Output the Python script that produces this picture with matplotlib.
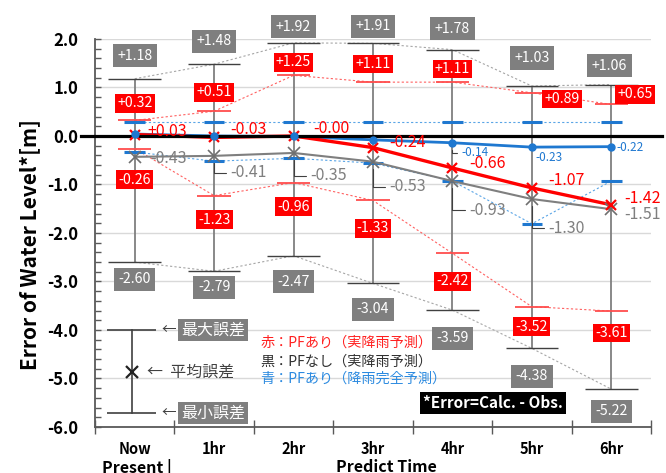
import matplotlib.pyplot as plt
from matplotlib.ticker import FixedLocator

plt.rcParams['font.family'] = ['Noto Sans CJK JP', 'DejaVu Sans']
plt.rcParams['axes.unicode_minus'] = False

# --- Data ---

STEPS = ["Now", "1hr", "2hr", "3hr", "4hr", "5hr", "6hr"]

# PFなし (実降雨予測)
NOPF_MAX = [1.18, 1.48, 1.92, 1.91, 1.78, 1.03, 1.06]
NOPF_MEAN = [-0.43, -0.41, -0.35, -0.53, -0.93, -1.30, -1.51]
NOPF_MIN = [-2.60, -2.79, -2.47, -3.04, -3.59, -4.38, -5.22]

# PFあり (実降雨予測)
PF_MAX = [0.32, 0.51, 1.25, 1.11, 1.11, 0.89, 0.65]
PF_MEAN = [0.03, -0.03, -0.00, -0.24, -0.66, -1.07, -1.42]
PF_MIN = [-0.26, -1.23, -0.96, -1.33, -2.42, -3.52, -3.61]

# PFあり (降雨完全予測)
PERF_MAX = [0.28, 0.28, 0.28, 0.28, 0.28, 0.28, 0.28]
PERF_MEAN = [0.04, 0.00, -0.01, -0.08, -0.14, -0.23, -0.22]
PERF_MIN = [-0.33, -0.52, -0.46, -0.56, -0.93, -1.81, -0.93]
PERF_LABELED = [4, 5, 6]

# key sample (max / mean / min)
KEY_VALUES = [-4.0, -4.87, -5.71]

# --- Colors ---
RED = "#ff0000"
GRAY = "#7f7f7f"
DARK = "#404040"
BLUE = "#1f78d0"

# --- Label offsets in pixels (dx, dy) ---
NOPF_MAX_OFF = [(0, 23), (0, 23), (0, 16), (0, 17), (0, 21), (0, 28), (-2, 19)]
NOPF_MIN_OFF = [(0, -17), (0, -16), (0, -26), (0, -26), (0, -28), (0, -28), (0, -22)]
PF_MAX_OFF = [(0, 17), (0, 19), (0, 13), (0, 18), (0, 13), (30, -6), (24, 10)]
PF_MIN_OFF = [(0, -31), (0, -24), (0, -24), (0, -28), (0, -28), (0, -20), (0, -22)]
PF_MEAN_OFF = [(13, 3), (16, 8), (20, 7), (16, 5), (17, 4), (16, 7), (13, 6)]
NOPF_MEAN_OFF = [(16, -2), (16, -17), (17, -23), (16, -25), (17, -29), (16, -29), (13, -5)]
NOPF_LEADER = [False, True, True, True, True, True, False]
PERF_MEAN_OFF = {4: (9, -10), 5: (4, -10), 6: (5, -1)}


def box_label(ax, x, y, value, off, fc, pad):
    ax.annotate(f"{value:+.2f}", (x, y), xytext=off, textcoords="offset pixels",
                ha="center", va="center", fontsize=10.2, color="white",
                bbox=dict(boxstyle=f"square,pad={pad}", fc=fc, ec="none"),
                zorder=10, annotation_clip=False)


def mean_label(ax, x, y, text, off, color, size, leader=False):
    props = None
    if leader:
        props = dict(arrowstyle="-", color=DARK, lw=0.8, shrinkA=1, shrinkB=5,
                     connectionstyle="angle,angleA=0,angleB=90,rad=0")
    ax.annotate(text, (x, y), xytext=off, textcoords="offset pixels",
                ha="left", va="center", fontsize=size, color=color,
                arrowprops=props, zorder=10, annotation_clip=False)


def caps(ax, xs, ys, half, color, lw, z):
    for x, y in zip(xs, ys):
        ax.plot([x - half, x + half], [y, y], color=color, lw=lw, zorder=z,
                solid_capstyle="butt")


fig = plt.figure(figsize=(6.66, 4.73), dpi=100)
ax = fig.add_axes([0.1426, 0.0973, 0.8349, 0.8203])
xs = list(range(len(STEPS)))

ax.set_xlim(-0.5, 6.5)
ax.set_ylim(-6, 2)

# grid
for v in range(-6, 3):
    ax.axhline(v, color="#d9d9d9", lw=1, zorder=0)

# dotted envelopes
ax.plot(xs, NOPF_MAX, color="#a6a6a6", lw=0.8, ls=(0, (2, 2)), zorder=1)
ax.plot(xs, NOPF_MIN, color="#a6a6a6", lw=0.8, ls=(0, (2, 2)), zorder=1)
ax.plot(xs, PF_MAX, color="#ff6060", lw=0.8, ls=(0, (2, 2)), zorder=1)
ax.plot(xs, PF_MIN, color="#ff6060", lw=0.8, ls=(0, (2, 2)), zorder=1)
ax.plot(xs, PERF_MAX, color="#5aa5e6", lw=0.8, ls=(0, (2, 2)), zorder=1)
ax.plot(xs, PERF_MIN, color="#5aa5e6", lw=0.8, ls=(0, (2, 2)), zorder=1)

# min-max range
ax.vlines(xs, NOPF_MIN, NOPF_MAX, color=GRAY, lw=1.3, zorder=2)
caps(ax, xs, NOPF_MAX, 0.33, DARK, 1.0, 2)
caps(ax, xs, NOPF_MIN, 0.33, DARK, 1.0, 2)
caps(ax, xs, PF_MAX, 0.21, "#ff4d4d", 1.3, 2.5)
caps(ax, xs, PF_MIN, 0.21, "#ff4d4d", 1.3, 2.5)
caps(ax, xs, PERF_MAX, 0.13, BLUE, 2.2, 2.6)
caps(ax, xs, PERF_MIN, 0.13, BLUE, 2.2, 2.6)

# mean lines
ax.plot(xs, NOPF_MEAN, color=GRAY, lw=1.5, zorder=3)
ax.plot(xs, PERF_MEAN, color=BLUE, lw=2, zorder=3)
ax.plot(xs, PF_MEAN, color=RED, lw=2.4, zorder=4)
ax.plot([-0.68, 6.64], [0, 0], color="black", lw=2.3, zorder=5, clip_on=False)
ax.plot(xs, NOPF_MEAN, ls="none", marker="x", ms=8, mew=1.2, color="#6f6f6f", zorder=6)
ax.plot(xs, PF_MEAN, ls="none", marker="x", ms=7, mew=1.6, color=RED, zorder=6)
ax.plot(xs, PERF_MEAN, ls="none", marker="o", ms=5, color=BLUE, zorder=6)

# value labels
for i, x in enumerate(xs):
    box_label(ax, x, NOPF_MAX[i], NOPF_MAX[i], NOPF_MAX_OFF[i], GRAY, 0.32)
    box_label(ax, x, NOPF_MIN[i], NOPF_MIN[i], NOPF_MIN_OFF[i], GRAY, 0.32)
    box_label(ax, x, PF_MAX[i], PF_MAX[i], PF_MAX_OFF[i], RED, 0.16)
    box_label(ax, x, PF_MIN[i], PF_MIN[i], PF_MIN_OFF[i], RED, 0.16)
    mean_label(ax, x, PF_MEAN[i], f"{PF_MEAN[i]:+.2f}", PF_MEAN_OFF[i], RED, 11.5)
    mean_label(ax, x, NOPF_MEAN[i], f"{NOPF_MEAN[i]:.2f}", NOPF_MEAN_OFF[i], GRAY,
               11.5, NOPF_LEADER[i])
for i in PERF_LABELED:
    mean_label(ax, xs[i], PERF_MEAN[i], f"{PERF_MEAN[i]:.2f}", PERF_MEAN_OFF[i], BLUE,
               8.5, leader=(i == 4))

# key
kx = -0.04
kmax, kmean, kmin = KEY_VALUES
ax.plot([kx, kx], [kmin, kmax], color=DARK, lw=1.2, zorder=3)
caps(ax, [kx, kx], [kmax, kmin], 0.31, DARK, 1.2, 3)
ax.plot([kx], [kmean], marker="x", ms=9, mew=1.6, color="#222222", zorder=6)
for y, name in [(kmax, "最大誤差"), (kmin, "最小誤差")]:
    ax.text(0.43, y, "←", ha="center", va="center", fontsize=10.5, color=DARK, zorder=10)
    ax.text(0.99, y, name, ha="center", va="center", fontsize=11.5, color="white",
            bbox=dict(boxstyle="square,pad=0.18", fc=GRAY, ec="none"), zorder=10)
ax.text(0.16, kmean, "←  平均誤差", ha="left", va="center", fontsize=11.5,
        color=DARK, zorder=10)

ax.text(0.297, 0.2165, "赤：PFあり（実降雨予測）", transform=ax.transAxes,
        ha="left", va="center", fontsize=10.2, color="#ff2020")
ax.text(0.297, 0.1675, "黒：PFなし（実降雨予測）", transform=ax.transAxes,
        ha="left", va="center", fontsize=10.2, color="#303030")
ax.text(0.297, 0.1237, "青：PFあり（降雨完全予測）", transform=ax.transAxes,
        ha="left", va="center", fontsize=10.2, color="#2b8ae0")
ax.text(0.716, 0.062, "*Error=Calc. - Obs.", transform=ax.transAxes,
        ha="center", va="center", fontsize=11, color="white", fontweight="bold",
        bbox=dict(boxstyle="square,pad=0.2", fc="black", ec="none"), zorder=10)

# axes styling
for side in ["top", "right"]:
    ax.spines[side].set_visible(False)
for side in ["left", "bottom"]:
    ax.spines[side].set_color("#595959")
    ax.spines[side].set_linewidth(1.3)

yt = list(range(-6, 3))
ax.set_yticks(yt)
ax.set_yticklabels([f"{v:.1f}" for v in yt], fontsize=12, fontweight="bold")
ax.yaxis.set_minor_locator(FixedLocator([v / 5 for v in range(-30, 11)]))
ax.tick_params(axis="y", which="both", direction="in", length=4, width=1,
               color="#595959", pad=12)

ax.set_xticks(xs)
ax.set_xticklabels(STEPS, fontsize=10.5, fontweight="bold")
ax.xaxis.set_minor_locator(FixedLocator([i + 0.5 for i in range(-1, 7)]))
ax.tick_params(axis="x", which="major", length=0, pad=10)
ax.tick_params(axis="x", which="minor", direction="inout", length=10, width=1,
               color="#595959")

fig.text(30 / 666, 1 - 245 / 473, "Error of Water Level*[m]", rotation=90,
         ha="center", va="center", fontsize=15, fontweight="bold")
fig.text(137 / 666, 1 - 459 / 473, "Present |", ha="center", va="top",
         fontsize=11.5, fontweight="bold")
fig.text(386 / 666, 1 - 459 / 473, "Predict Time", ha="center", va="top",
         fontsize=11.5, fontweight="bold")

fig.savefig("out.png", dpi=100)
